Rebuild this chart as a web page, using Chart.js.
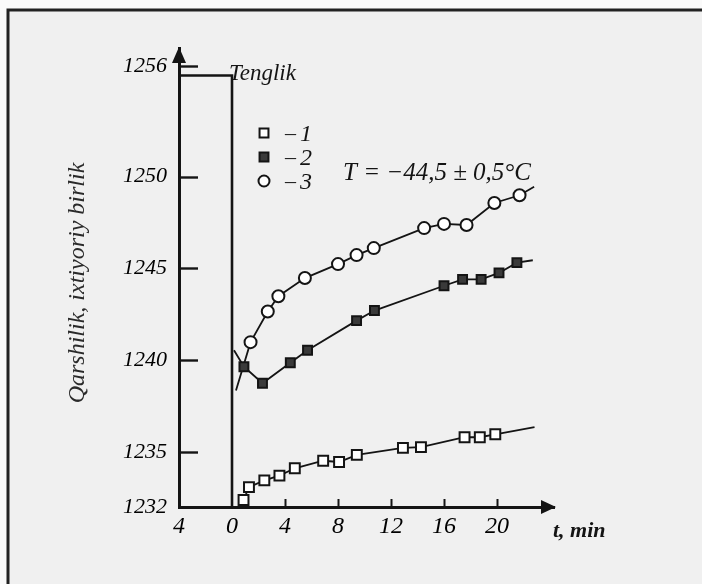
<!DOCTYPE html>
<html>
<head>
<meta charset="utf-8">
<script src="https://cdn.jsdelivr.net/npm/chart.js@4/dist/chart.umd.min.js"></script>
<style>
  html, body { margin: 0; padding: 0; background: #fafafa; }
  canvas { display: block; }
</style>
</head>
<body>
<canvas id="chart" width="702" height="584"></canvas>
<script>
// Axis ticks
const timeTicks = [-4, 0, 4, 8, 12, 16, 20];
const timeTickLabels = ['4', '0', '4', '8', '12', '16', '20'];
const resistanceTicks = [1232, 1235, 1240, 1245, 1250, 1256];

// Equilibrium level before t = 0
const equilibriumLevel = 1255.5;
const equilibriumLabel = 'Tenglik';

// Measured points, t in min
const series1Time  = [0.87, 1.28, 2.44, 3.58, 4.74, 6.88, 8.08, 9.42, 12.9, 14.26, 17.55, 18.7, 19.87];
const series1Value = [1232.38, 1233.08, 1233.45, 1233.71, 1234.11, 1234.52, 1234.45, 1234.84, 1235.22, 1235.26, 1235.8, 1235.8, 1235.96];
const series2Time  = [0.9, 2.3, 4.4, 5.7, 9.4, 10.75, 16.0, 17.4, 18.8, 20.15, 21.5];
const series2Value = [1239.64, 1238.74, 1239.86, 1240.54, 1242.15, 1242.7, 1244.05, 1244.4, 1244.4, 1244.75, 1245.31];
const series3Time  = [1.4, 2.7, 3.5, 5.5, 8.0, 9.4, 10.7, 14.5, 16.0, 17.7, 19.8, 21.7];
const series3Value = [1240.98, 1242.65, 1243.48, 1244.47, 1245.23, 1245.72, 1246.1, 1247.19, 1247.42, 1247.36, 1248.56, 1248.98];

// Where each curve starts / ends beyond its markers: [t, value]
const series1Ends = [null, [22.83, 1236.35]];
const series2Ends = [[0.15, 1240.54], [22.7, 1245.44]];
const series3Ends = [[0.3, 1238.35], [22.8, 1249.44]];

const seriesNames = ['1', '2', '3'];
const temperatureNote = 'T = \u221244,5 \u00b1 0,5\u00b0C';
const yTitle = 'Qarshilik, ixtiyoriy birlik';
const xTitle = 't, min';

const INK = '#141414';
const SERIF = '"Liberation Serif", "Times New Roman", serif';

function curve(times, values, ends) {
  const pts = times.map((t, i) => ({ x: t, y: values[i], mark: true }));
  if (ends[0]) pts.unshift({ x: ends[0][0], y: ends[0][1], mark: false });
  if (ends[1]) pts.push({ x: ends[1][0], y: ends[1][1], mark: false });
  return pts;
}

function markerStyle(style, radius, fill) {
  return {
    pointStyle: style,
    pointRadius: ctx => (ctx.raw && ctx.raw.mark ? radius : 0),
    pointHoverRadius: ctx => (ctx.raw && ctx.raw.mark ? radius : 0),
    pointBackgroundColor: fill,
    pointBorderColor: INK,
    pointBorderWidth: 2,
    borderColor: INK,
    borderWidth: 1.8,
    tension: 0,
    clip: false
  };
}

const datasets = [
  {
    label: equilibriumLabel,
    data: [
      { x: timeTicks[0], y: equilibriumLevel },
      { x: 0, y: equilibriumLevel },
      { x: 0, y: resistanceTicks[0] }
    ],
    borderColor: INK,
    borderWidth: 2.6,
    pointRadius: 0,
    pointHoverRadius: 0,
    tension: 0,
    clip: false
  },
  Object.assign({ label: seriesNames[0], data: curve(series1Time, series1Value, series1Ends) },
                markerStyle('rect', 7, '#ffffff')),
  Object.assign({ label: seriesNames[1], data: curve(series2Time, series2Value, series2Ends) },
                markerStyle('rect', 6.3, '#3a3a3a')),
  Object.assign({ label: seriesNames[2], data: curve(series3Time, series3Value, series3Ends) },
                markerStyle('circle', 6, '#ffffff'))
];

// Page frame, paper tone, arrows, inward ticks and free text
const decorations = {
  id: 'decorations',
  beforeDraw(chart) {
    const { ctx, width, height } = chart;
    ctx.save();
    ctx.fillStyle = '#fafafa';
    ctx.fillRect(0, 0, width, height);
    ctx.fillStyle = '#f0f0f0';
    ctx.fillRect(9, 11, width - 9, height - 11);
    ctx.strokeStyle = '#222';
    ctx.lineWidth = 3;
    ctx.beginPath();
    ctx.moveTo(8, height);
    ctx.lineTo(8, 10);
    ctx.lineTo(width, 10);
    ctx.stroke();
    ctx.restore();
  },
  afterDraw(chart) {
    const { ctx, chartArea, scales } = chart;
    const xs = scales.x, ys = scales.y;
    const x0 = chartArea.left, yB = chartArea.bottom;
    ctx.save();
    ctx.fillStyle = INK;
    ctx.strokeStyle = INK;

    // arrow heads
    ctx.beginPath();
    ctx.moveTo(x0, chartArea.top - 1);
    ctx.lineTo(x0 - 7, chartArea.top + 15);
    ctx.lineTo(x0 + 7, chartArea.top + 15);
    ctx.closePath();
    ctx.fill();
    ctx.beginPath();
    ctx.moveTo(chartArea.right + 2, yB);
    ctx.lineTo(chartArea.right - 13, yB - 7);
    ctx.lineTo(chartArea.right - 13, yB + 7);
    ctx.closePath();
    ctx.fill();

    // inward tick marks
    ctx.lineWidth = 2.4;
    resistanceTicks.slice(1).forEach(v => {
      const y = Math.round(ys.getPixelForValue(v)) + 0.5;
      ctx.beginPath();
      ctx.moveTo(x0 + 1, y);
      ctx.lineTo(x0 + 19, y);
      ctx.stroke();
    });
    ctx.lineWidth = 2;
    timeTicks.filter(t => t > 0).forEach(t => {
      const x = Math.round(xs.getPixelForValue(t)) + 0.5;
      ctx.beginPath();
      ctx.moveTo(x, yB);
      ctx.lineTo(x, yB - 8);
      ctx.stroke();
    });

    // texts
    ctx.textBaseline = 'alphabetic';
    ctx.textAlign = 'left';
    ctx.font = 'italic 23px ' + SERIF;
    ctx.fillText(equilibriumLabel, 229, 80);

    ctx.font = 'italic 25px ' + SERIF;
    ctx.fillText(temperatureNote, 343, 180, 192);

    ctx.font = 'italic bold 22px ' + SERIF;
    ctx.fillText(xTitle, 553, 537);

    ctx.save();
    ctx.translate(84, 283);
    ctx.rotate(-Math.PI / 2);
    ctx.textAlign = 'center';
    ctx.fillStyle = '#2a2a2a';
    ctx.font = 'italic 24px ' + SERIF;
    ctx.fillText(yTitle, 0, 0);
    ctx.restore();

    // legend
    const rows = [133, 157, 181];
    chart.data.datasets.slice(1).forEach((ds, i) => {
      const y = rows[i];
      ctx.save();
      ctx.fillStyle = ds.pointBackgroundColor;
      ctx.strokeStyle = INK;
      ctx.lineWidth = 2;
      Chart.helpers.drawPoint(ctx, {
        pointStyle: ds.pointStyle,
        radius: ds.pointStyle === 'rect' ? 6.3 : 5.5,
        rotation: 0,
        borderWidth: 2
      }, 264, y);
      ctx.restore();
      ctx.font = '22px ' + SERIF;
      ctx.fillText('\u2013', 285, y + 7);
      ctx.font = 'italic 24px ' + SERIF;
      ctx.fillText(ds.label, 300, y + 8);
    });
    ctx.restore();
  }
};

new Chart(document.getElementById('chart'), {
  type: 'line',
  data: { datasets },
  plugins: [decorations],
  options: {
    responsive: false,
    animation: false,
    events: [],
    layout: { padding: { top: 48, right: 148, bottom: 0, left: 0 } },
    plugins: { legend: { display: false }, tooltip: { enabled: false } },
    scales: {
      x: {
        type: 'linear',
        min: timeTicks[0],
        max: 24.3,
        afterBuildTicks: s => { s.ticks = timeTicks.map(v => ({ value: v })); },
        afterFit: s => { s.height = 77; },
        grid: { display: true, drawOnChartArea: false, drawTicks: false },
        border: { display: true, color: INK, width: 3 },
        ticks: {
          autoSkip: false,
          maxRotation: 0,
          padding: 5,
          color: '#000',
          font: { family: SERIF, style: 'italic', size: 24 },
          callback: v => timeTickLabels[timeTicks.indexOf(v)]
        }
      },
      y: {
        type: 'linear',
        min: resistanceTicks[0],
        max: 1257,
        afterBuildTicks: s => { s.ticks = resistanceTicks.map(v => ({ value: v })); },
        afterFit: s => { s.width = 179; },
        grid: { display: true, drawOnChartArea: false, drawTicks: false },
        border: { display: true, color: INK, width: 3 },
        ticks: {
          autoSkip: false,
          padding: 12,
          color: '#000',
          font: { family: SERIF, style: 'italic', size: 22 },
          callback: v => String(v)
        }
      }
    }
  }
});
</script>
</body>
</html>
